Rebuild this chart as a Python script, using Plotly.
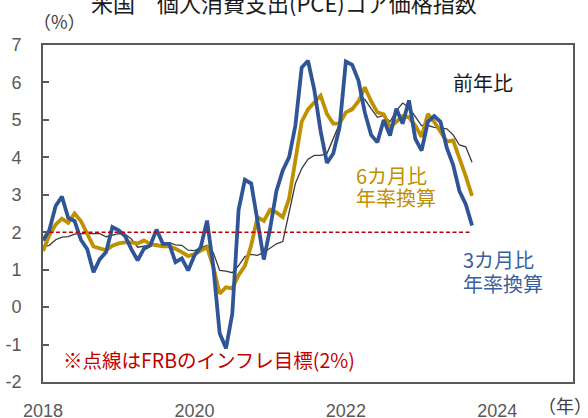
import plotly.graph_objects as go

# ---- data (monthly, index 0 = first month on the chart) ----
yoy = [1.62, 1.65, 1.80, 1.87, 1.88, 1.95, 1.96, 1.96, 1.96, 1.96,
       1.88, 1.93, 1.96, 1.95, 1.82, 1.60, 1.62, 1.65, 1.68, 1.65,
       1.72, 1.66, 1.65, 1.52, 1.51, 1.58, 1.65, 1.45, 0.98, 0.96,
       0.92, 1.11, 1.35, 1.41, 1.38, 1.46, 1.58, 1.69, 1.75, 2.50,
       3.30, 3.70, 3.95, 4.05, 4.05, 4.10, 4.50, 4.90, 5.22, 5.33,
       5.50, 5.55, 5.30, 5.07, 5.12, 4.95, 5.25, 5.45, 5.33, 5.10,
       4.85, 4.85, 4.80, 4.78, 4.76, 4.60, 4.33, 4.28, 3.87]

ann3m = [1.78, 2.05, 2.70, 2.95, 2.38, 2.30, 1.80, 1.55, 0.93, 1.28,
         1.47, 2.14, 2.05, 1.90, 1.55, 1.25, 1.56, 1.65, 2.07, 1.69,
         1.69, 1.20, 1.30, 0.98, 1.38, 1.60, 2.31, 1.07, -0.70, -1.10,
         -0.18, 2.60, 3.40, 3.30, 2.30, 1.27, 2.10, 3.10, 3.65, 4.00,
         4.85, 6.40, 6.58, 5.80, 4.70, 3.85, 4.10, 4.80, 6.56, 6.47,
         6.05, 5.20, 4.60, 4.40, 5.00, 4.58, 5.30, 4.90, 5.52, 4.50,
         4.18, 4.95, 5.10, 4.95, 4.25, 3.80, 3.10, 2.75, 2.18]

ann6m = [1.50, 1.92, 2.20, 2.36, 2.25, 2.50, 2.30, 1.95, 1.62, 1.57,
         1.52, 1.64, 1.70, 1.73, 1.73, 1.70, 1.78, 1.68, 1.65, 1.62,
         1.62, 1.56, 1.47, 1.36, 1.42, 1.52, 1.60, 1.07, 0.36, 0.53,
         0.50, 0.85, 1.10, 1.65, 2.40, 2.30, 2.60, 2.53, 2.40, 2.90,
         4.00, 4.95, 5.28, 5.45, 5.65, 5.16, 4.90, 4.90, 5.20, 5.28,
         5.50, 5.87, 5.50, 5.20, 5.15, 4.80, 4.95, 5.10, 5.07, 4.85,
         4.55, 5.16, 4.95, 4.70, 4.42, 4.45, 4.00, 3.50, 2.97]

fed_target = 2.0
month_idx = list(range(len(yoy)))
target_line = [fed_target for _ in month_idx]

year_tick_pos = [0, 24, 48, 72]
year_tick_text = ["2018", "2020", "2022", "2024"]
y_tick_vals = [-2, -1, 0, 1, 2, 3, 4, 5, 6, 7]
y_tick_text = ["-2", "-1", "0", "1", "2", "3", "4", "5", "6", "7"]

label_6m = ["6カ月比", "年率換算"]
label_3m = ["3カ月比", "年率換算"]

JP = "Noto Sans CJK JP"
NUM = "Liberation Sans"

fig = go.Figure()
fig.add_trace(go.Scatter(x=month_idx, y=yoy, mode="lines",
                         line=dict(color="#3a3a3a", width=1.3), name="前年比"))
fig.add_trace(go.Scatter(x=month_idx, y=ann6m, mode="lines",
                         line=dict(color="#BF9000", width=3.8), name="6カ月比年率換算"))
fig.add_trace(go.Scatter(x=month_idx, y=ann3m, mode="lines",
                         line=dict(color="#2F5597", width=3.8), name="3カ月比年率換算"))
fig.add_trace(go.Scatter(x=month_idx, y=target_line, mode="lines",
                         line=dict(color="#C00000", width=1.5, dash="4px,2.5px"),
                         name="FRB目標"))

fig.update_layout(
    width=588, height=418,
    margin=dict(l=43, r=15, t=45, b=36, autoexpand=False),
    paper_bgcolor="white", plot_bgcolor="white",
    showlegend=False,
    xaxis=dict(range=[0, 84], tickvals=year_tick_pos, ticktext=year_tick_text,
               ticks="", showgrid=False, zeroline=False, automargin=False,
               showline=True, linecolor="#595959", linewidth=1.5, mirror=True,
               tickfont=dict(family=NUM, size=18, color="#595959"),
               ticklabelstandoff=12),
    xaxis2=dict(range=[0, 84], tickvals=year_tick_pos, overlaying="x",
                anchor="free", position=2 / 9, side="bottom", automargin=False,
                ticks="inside", ticklen=5, tickwidth=1.5, tickcolor="#000000",
                showticklabels=False, showgrid=False, zeroline=False,
                showline=True, linecolor="#000000", linewidth=1.8),
    yaxis=dict(range=[-2, 7], tickvals=y_tick_vals, ticktext=y_tick_text,
               ticks="inside", ticklen=6, tickwidth=1.5, tickcolor="#595959",
               showgrid=False, zeroline=False, automargin=False,
               showline=True, linecolor="#595959", linewidth=1.8, mirror=True,
               tickfont=dict(family=NUM, size=18, color="#595959"),
               ticklabelstandoff=16),
)

def line_label(text, x, y, color, size=20):
    return dict(text=text, xref="x", yref="y", x=x, y=y,
                xanchor="left", yanchor="middle", showarrow=False,
                font=dict(family=JP, size=size, color=color))

annotations = [
    dict(text="米国　個人消費支出(PCE)コア価格指数", xref="paper", yref="paper",
         x=0.4547, y=1.1276, xanchor="center", yanchor="middle", showarrow=False,
         font=dict(family=JP, size=22, color="#1a1a1a")),
    dict(text="（%）", xref="paper", yref="paper", x=0.032, y=1.0712,
         xanchor="center", yanchor="middle", showarrow=False,
         font=dict(family=JP, size=18, color="#404040")),
    dict(text="（年）", xref="paper", yref="paper", x=0.930, y=-0.068,
         xanchor="left", yanchor="middle", showarrow=False,
         font=dict(family=JP, size=18, color="#404040")),
    dict(text="前年比", xref="x", yref="y", x=69.8, y=6.01,
         xanchor="center", yanchor="middle", showarrow=False,
         font=dict(family=JP, size=20, color="#1a1a1a")),
    line_label(label_6m[0], 49.3, 3.51, "#BF9000"),
    line_label(label_6m[1], 49.3, 2.93, "#BF9000"),
    line_label(label_3m[0], 66.3, 1.26, "#3A5FA0"),
    line_label(label_3m[1], 66.3, 0.62, "#3A5FA0"),
    line_label("※点線はFRBのインフレ目標(2%)", 2.8, -1.4, "#C00000", size=19.5),
]
fig.update_layout(annotations=annotations)

fig.write_html("out.html",
               config={"displayModeBar": False},
               post_script="document.body.style.margin='0';document.body.style.overflow='hidden';")
